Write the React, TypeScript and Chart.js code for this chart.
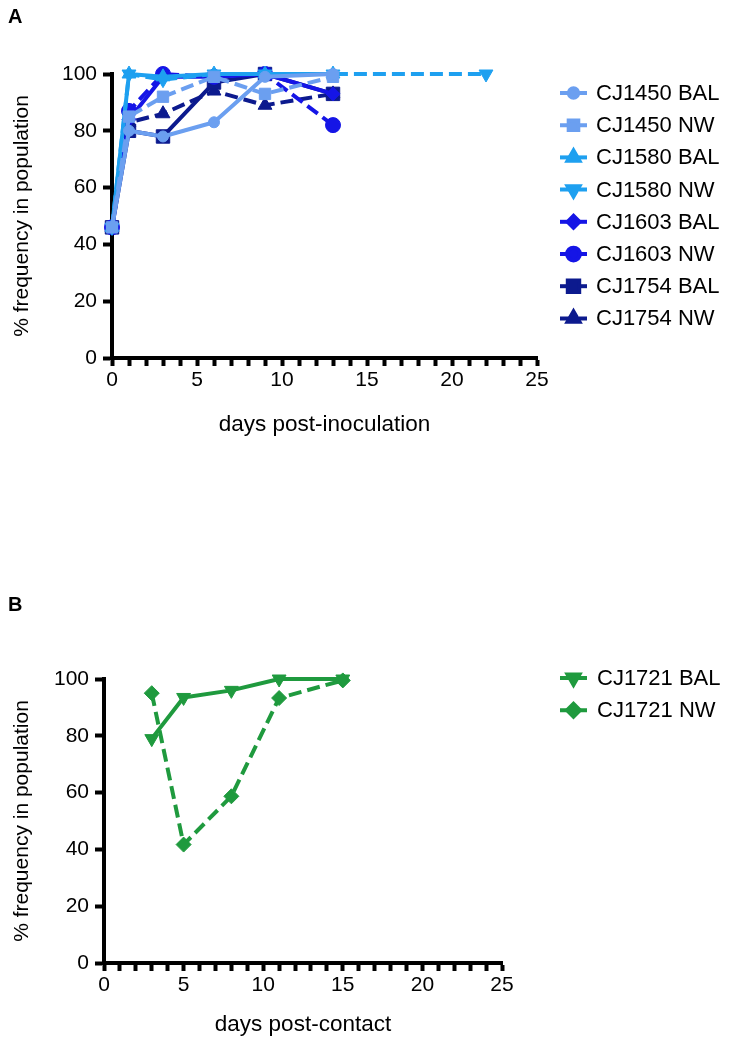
import React, { useEffect, useRef } from "react";
import { Chart, registerables } from "chart.js";
import { drawPoint } from "chart.js/helpers";

Chart.register(...registerables);

// ---------- Data ----------
const daysA = [0, 1, 3, 6, 9, 13];
const daysA1580Nw = [0, 1, 3, 6, 9, 13, 22];
const cj1450Bal = [46, 80, 78, 83, 99, 100];
const cj1450Nw = [46, 85, 92, 99, 93, 99];
const cj1580Bal = [46, 100, 99, 100, 100, 100];
const cj1580Nw = [46, 100, 98, 100, 100, 100, 100];
const cj1603Bal = [46, 84, 99, 99, 100, 93];
const cj1603Nw = [46, 87, 100, 99, 100, 82];
const cj1754Bal = [46, 80, 78, 97, 100, 93];
const cj1754Nw = [46, 83, 86, 94, 89, 93];

const daysB = [3, 5, 8, 11, 15];
const cj1721Bal = [79, 93.5, 96, 100, 100];
const cj1721Nw = [95, 41.7, 58.7, 93.3, 99.5];

const labelsA = ["CJ1450 BAL", "CJ1450 NW", "CJ1580 BAL", "CJ1580 NW", "CJ1603 BAL", "CJ1603 NW", "CJ1754 BAL", "CJ1754 NW"];
const labelsB = ["CJ1721 BAL", "CJ1721 NW"];
const yTicks = [0, 20, 40, 60, 80, 100];
const xMajorEvery = 5;

const C1450 = "#6b9ff0";
const C1580 = "#1ea0f0";
const C1603 = "#1515e6";
const C1754 = "#0c1a8e";
const CGREEN = "#1f9a3e";

const FONT = "'Liberation Sans', Arial, Helvetica, sans-serif";
const LINE_W = 4;
const DASH = [13, 6];

const pts = (xs: number[], ys: number[]) => xs.map((x, i) => ({ x, y: ys[i] }));

type DS = {
  label: string;
  xs: number[];
  ys: number[];
  color: string;
  dashed: boolean;
  style: string;
  rotation: number;
  radius: number;
};

function makeDataset(d: DS) {
  return {
    label: d.label,
    data: pts(d.xs, d.ys),
    borderColor: d.color,
    backgroundColor: d.color,
    pointBackgroundColor: d.color,
    pointBorderColor: d.color,
    borderWidth: LINE_W,
    borderDash: d.dashed ? DASH : [],
    borderJoinStyle: "round",
    pointStyle: d.style,
    pointRotation: d.rotation,
    pointRadius: d.radius,
    pointBorderWidth: 1,
    tension: 0,
    clip: false as any,
    _dashed: d.dashed,
  };
}

const legendPlugin = {
  id: "customLegend",
  afterDraw(chart: any, _args: any, opts: any) {
    const ctx = chart.ctx;
    const { x0, y0, step, textX } = opts;
    chart.data.datasets.forEach((ds: any, i: number) => {
      const y = y0 + i * step;
      ctx.save();
      ctx.strokeStyle = ds.borderColor;
      ctx.lineWidth = LINE_W;
      ctx.setLineDash(ds._dashed ? DASH : []);
      ctx.beginPath();
      ctx.moveTo(x0, y);
      ctx.lineTo(x0 + 27, y);
      ctx.stroke();
      ctx.setLineDash([]);
      ctx.fillStyle = ds.borderColor;
      drawPoint(
        ctx,
        { pointStyle: ds.pointStyle, rotation: ds.pointRotation, radius: ds.pointRadius * 0.85, borderWidth: 1 } as any,
        x0 + 13.5,
        y
      );
      ctx.fillStyle = "#000";
      ctx.font = `22px ${FONT}`;
      ctx.textBaseline = "middle";
      ctx.textAlign = "left";
      ctx.fillText(ds.label, textX, y + 1);
      ctx.restore();
    });
  },
};

function makeOptions(p: {
  padLeft: number;
  padTop: number;
  padRight: number;
  padBottom: number;
  yWidth: number;
  xHeight: number;
  xTitle: string;
  legend: any;
}) {
  return {
    animation: false as const,
    responsive: false,
    maintainAspectRatio: false,
    layout: { padding: { left: p.padLeft, top: p.padTop, right: p.padRight, bottom: p.padBottom } },
    plugins: {
      legend: { display: false },
      tooltip: { enabled: false },
      customLegend: p.legend,
    },
    scales: {
      x: {
        type: "linear" as const,
        min: 0,
        max: 25,
        afterFit: (s: any) => {
          s.height = p.xHeight;
        },
        border: { display: true, color: "#000", width: 4 },
        grid: {
          display: true,
          drawOnChartArea: false,
          drawTicks: true,
          tickLength: 8,
          tickWidth: 4,
          tickColor: "#000",
          color: "#000",
        },
        ticks: {
          stepSize: 1,
          autoSkip: false,
          maxRotation: 0,
          color: "#000",
          padding: 2,
          font: { family: FONT, size: 21 },
          callback: (v: any) => (Number(v) % xMajorEvery === 0 ? String(v) : ""),
        },
        title: {
          display: true,
          text: p.xTitle,
          color: "#000",
          font: { family: FONT, size: 22.5 },
          padding: { top: 4, bottom: 4 },
        },
      },
      y: {
        type: "linear" as const,
        min: 0,
        max: 100,
        afterFit: (s: any) => {
          s.width = p.yWidth;
        },
        afterBuildTicks: (s: any) => {
          s.ticks = yTicks.map((v) => ({ value: v }));
        },
        border: { display: true, color: "#000", width: 4 },
        grid: {
          display: true,
          drawOnChartArea: false,
          drawTicks: true,
          tickLength: 9,
          tickWidth: 4,
          tickColor: "#000",
          color: "#000",
        },
        ticks: {
          color: "#000",
          padding: 6,
          font: { family: FONT, size: 21 },
        },
        title: {
          display: true,
          text: "% frequency in population",
          color: "#000",
          font: { family: FONT, size: 21 },
          padding: { top: 5, bottom: 4 },
        },
      },
    },
  };
}

function PanelA() {
  const ref = useRef<HTMLCanvasElement>(null);
  useEffect(() => {
    if (!ref.current) return;
    const series: DS[] = [
      { label: labelsA[0], xs: daysA, ys: cj1450Bal, color: C1450, dashed: false, style: "circle", rotation: 0, radius: 5.5 },
      { label: labelsA[1], xs: daysA, ys: cj1450Nw, color: C1450, dashed: true, style: "rect", rotation: 0, radius: 8 },
      { label: labelsA[2], xs: daysA, ys: cj1580Bal, color: C1580, dashed: false, style: "triangle", rotation: 0, radius: 8 },
      { label: labelsA[3], xs: daysA1580Nw, ys: cj1580Nw, color: C1580, dashed: true, style: "triangle", rotation: 180, radius: 8 },
      { label: labelsA[4], xs: daysA, ys: cj1603Bal, color: C1603, dashed: false, style: "rectRot", rotation: 0, radius: 7 },
      { label: labelsA[5], xs: daysA, ys: cj1603Nw, color: C1603, dashed: true, style: "circle", rotation: 0, radius: 7.5 },
      { label: labelsA[6], xs: daysA, ys: cj1754Bal, color: C1754, dashed: false, style: "rect", rotation: 0, radius: 9.5 },
      { label: labelsA[7], xs: daysA, ys: cj1754Nw, color: C1754, dashed: true, style: "triangle", rotation: 0, radius: 8 },
    ];
    const chart = new Chart(ref.current, {
      type: "line",
      data: { datasets: series.map(makeDataset) as any },
      options: makeOptions({
        padLeft: 5,
        padTop: 74,
        padRight: 198,
        padBottom: 28,
        yWidth: 107,
        xHeight: 84,
        xTitle: "days post-inoculation",
        legend: { x0: 560, y0: 93, step: 32.2, textX: 596 },
      }) as any,
      plugins: [legendPlugin],
    });
    return () => chart.destroy();
  }, []);
  return <canvas ref={ref} width={735} height={470} style={{ position: "absolute", left: 0, top: 0, width: 735, height: 470 }} />;
}

function PanelB() {
  const ref = useRef<HTMLCanvasElement>(null);
  useEffect(() => {
    if (!ref.current) return;
    const series: DS[] = [
      { label: labelsB[0], xs: daysB, ys: cj1721Bal, color: CGREEN, dashed: false, style: "triangle", rotation: 180, radius: 8 },
      { label: labelsB[1], xs: daysB, ys: cj1721Nw, color: CGREEN, dashed: true, style: "rectRot", rotation: 0, radius: 7.5 },
    ];
    const chart = new Chart(ref.current, {
      type: "line",
      data: { datasets: series.map(makeDataset) as any },
      options: makeOptions({
        padLeft: 5,
        padTop: 119,
        padRight: 233,
        padBottom: 5,
        yWidth: 99,
        xHeight: 79,
        xTitle: "days post-contact",
        legend: { x0: 560, y0: 118, step: 32.2, textX: 597 },
      }) as any,
      plugins: [legendPlugin],
    });
    return () => chart.destroy();
  }, []);
  return <canvas ref={ref} width={735} height={487} style={{ position: "absolute", left: 0, top: 560, width: 735, height: 487 }} />;
}

export default function App() {
  const letter: React.CSSProperties = {
    position: "absolute",
    left: 8,
    fontFamily: FONT,
    fontWeight: "bold",
    fontSize: 20,
    lineHeight: "20px",
    color: "#000",
  };
  return (
    <div style={{ position: "absolute", left: 0, top: 0, width: 735, height: 1047, background: "#fff", overflow: "hidden" }}>
      <PanelA />
      <PanelB />
      <div style={{ ...letter, top: 6 }}>A</div>
      <div style={{ ...letter, top: 594 }}>B</div>
    </div>
  );
}
